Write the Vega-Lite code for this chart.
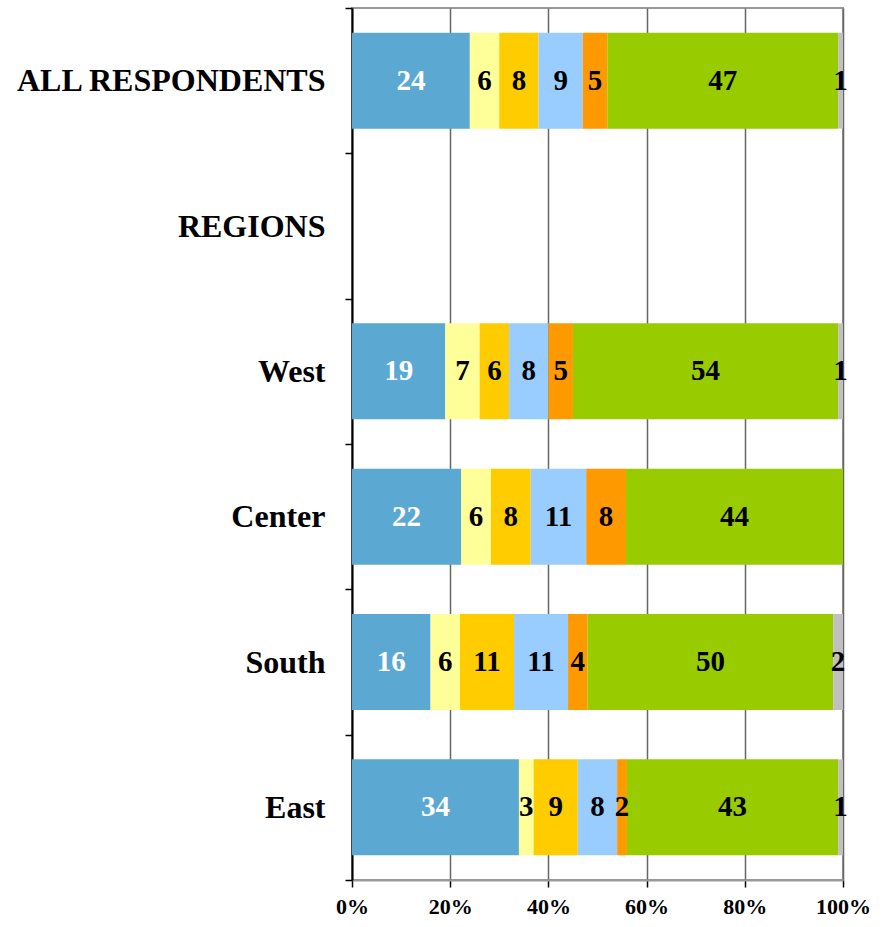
{
  "$schema": "https://vega.github.io/schema/vega-lite/v6.json",
  "width": 491,
  "height": 872,
  "autosize": "none",
  "padding": {"left": 352, "top": 8, "right": 47, "bottom": 47},
  "background": "white",
  "config": {
    "view": {"stroke": "#999999", "strokeWidth": 2},
    "font": "Liberation Serif"
  },
  "data": {
    "values": [
      {"cat": "ALL RESPONDENTS", "k": 1, "v": 24},
      {"cat": "ALL RESPONDENTS", "k": 2, "v": 6},
      {"cat": "ALL RESPONDENTS", "k": 3, "v": 8},
      {"cat": "ALL RESPONDENTS", "k": 4, "v": 9},
      {"cat": "ALL RESPONDENTS", "k": 5, "v": 5},
      {"cat": "ALL RESPONDENTS", "k": 6, "v": 47},
      {"cat": "ALL RESPONDENTS", "k": 7, "v": 1},
      {"cat": "West", "k": 1, "v": 19},
      {"cat": "West", "k": 2, "v": 7},
      {"cat": "West", "k": 3, "v": 6},
      {"cat": "West", "k": 4, "v": 8},
      {"cat": "West", "k": 5, "v": 5},
      {"cat": "West", "k": 6, "v": 54},
      {"cat": "West", "k": 7, "v": 1},
      {"cat": "Center", "k": 1, "v": 22.2},
      {"cat": "Center", "k": 2, "v": 6.1},
      {"cat": "Center", "k": 3, "v": 8.1},
      {"cat": "Center", "k": 4, "v": 11.3},
      {"cat": "Center", "k": 5, "v": 8.1},
      {"cat": "Center", "k": 6, "v": 44.2},
      {"cat": "South", "k": 1, "v": 16},
      {"cat": "South", "k": 2, "v": 6},
      {"cat": "South", "k": 3, "v": 11},
      {"cat": "South", "k": 4, "v": 11},
      {"cat": "South", "k": 5, "v": 4},
      {"cat": "South", "k": 6, "v": 50},
      {"cat": "South", "k": 7, "v": 2},
      {"cat": "East", "k": 1, "v": 34},
      {"cat": "East", "k": 2, "v": 3},
      {"cat": "East", "k": 3, "v": 9},
      {"cat": "East", "k": 4, "v": 8},
      {"cat": "East", "k": 5, "v": 2},
      {"cat": "East", "k": 6, "v": 43},
      {"cat": "East", "k": 7, "v": 1}
    ]
  },
  "encoding": {
    "y": {
      "field": "cat",
      "type": "nominal",
      "scale": {
        "domain": ["ALL RESPONDENTS", "REGIONS", "West", "Center", "South", "East"],
        "paddingInner": 0,
        "paddingOuter": 0
      },
      "axis": {
        "title": null,
        "tickBand": "extent",
        "grid": false,
        "domainColor": "black",
        "domainWidth": 2,
        "tickColor": "black",
        "tickWidth": 1.5,
        "tickSize": 7,
        "labelPadding": 20,
        "labelLimit": 0,
        "labelFont": "Liberation Serif",
        "labelFontSize": 32,
        "labelFontWeight": "bold",
        "labelColor": "black"
      }
    },
    "order": {"field": "k", "type": "quantitative"}
  },
  "layer": [
    {
      "mark": {"type": "bar", "height": {"band": 0.66}},
      "encoding": {
        "x": {
          "field": "v",
          "type": "quantitative",
          "stack": "zero",
          "scale": {"domain": [0, 100], "nice": false},
          "axis": {
            "title": null,
            "values": [0, 20, 40, 60, 80, 100],
            "labelExpr": "datum.value + '%'",
            "grid": true,
            "gridColor": "#666666",
            "gridWidth": 1.5,
            "domainColor": "#999999",
            "domainWidth": 2,
            "tickColor": "black",
            "tickWidth": 1.5,
            "tickSize": 7,
            "labelPadding": 9,
            "labelFont": "Liberation Serif",
            "labelFontSize": 22,
            "labelFontWeight": "bold",
            "labelColor": "black",
            "labelFlush": false
          }
        },
        "color": {
          "field": "k",
          "type": "ordinal",
          "legend": null,
          "scale": {
            "domain": [1, 2, 3, 4, 5, 6, 7],
            "range": ["#5BA8D2", "#FFFF99", "#FFCC00", "#99CCFF", "#FF9900", "#99CC00", "#C0C0C0"]
          }
        }
      }
    },
    {
      "mark": {"type": "text", "font": "Liberation Serif", "fontSize": 29, "fontWeight": "bold", "baseline": "middle", "align": "center"},
      "encoding": {
        "x": {"field": "v", "type": "quantitative", "stack": "zero", "bandPosition": 0.5},
        "text": {"field": "v", "type": "quantitative", "format": ".0f"},
        "color": {
          "condition": {"test": "datum.k == 1", "value": "white"},
          "value": "black"
        }
      }
    }
  ]
}
